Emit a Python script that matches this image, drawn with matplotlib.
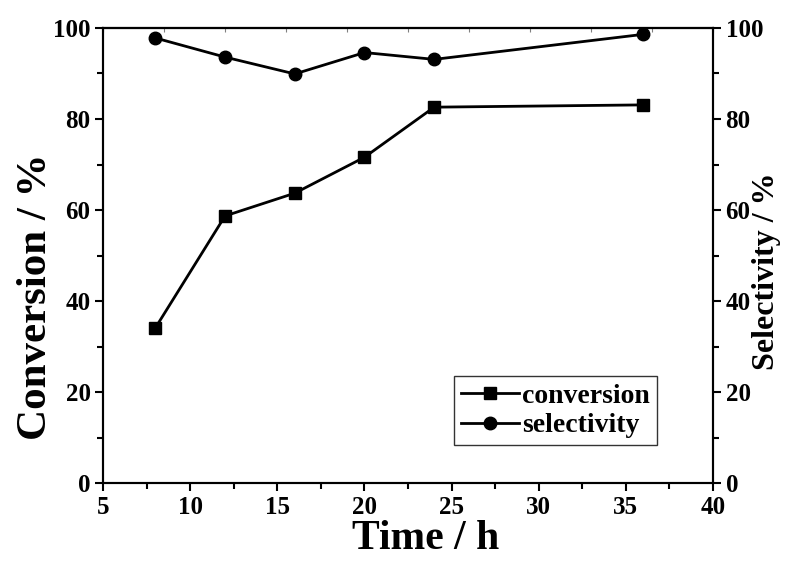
import numpy as np
import matplotlib
matplotlib.use("Agg")
import matplotlib.pyplot as plt
from matplotlib.ticker import MultipleLocator

plt.rcParams['font.family'] = ['Liberation Serif', 'DejaVu Serif']
plt.rcParams['font.weight'] = 'bold'

time_h = [8, 12, 16, 20, 24, 36]
conversion = [34.1, 58.7, 63.7, 71.6, 82.6, 83.1]
selectivity = [97.8, 93.6, 89.9, 94.6, 93.1, 98.6]

fig = plt.figure(figsize=(7.87, 5.71), dpi=100)
ax = fig.add_axes([0.131, 0.154, 0.775, 0.797])
ax2 = ax.twinx()

l1, = ax.plot(time_h, conversion, '-s', color='black', lw=2, ms=8, label='conversion')
l2, = ax2.plot(time_h, selectivity, '-o', color='black', lw=2, ms=9, label='selectivity')

for a in (ax, ax2):
    a.set_ylim(0, 100)
    a.yaxis.set_major_locator(MultipleLocator(20))
    a.yaxis.set_minor_locator(MultipleLocator(10))
    for s in a.spines.values():
        s.set_linewidth(1.5)
ax.set_xlim(5, 40)
ax.xaxis.set_major_locator(MultipleLocator(5))
ax.xaxis.set_minor_locator(MultipleLocator(2.5))

ax.tick_params(axis='both', which='major', direction='out', length=6, width=1.5, labelsize=18, pad=3)
ax.tick_params(axis='both', which='minor', direction='out', length=4, width=1.5)
ax.tick_params(top=False, which='both')
ax2.tick_params(axis='y', which='major', direction='out', length=6, width=1.5, labelsize=18, pad=3)
ax2.tick_params(axis='y', which='minor', direction='out', length=4, width=1.5)

# faint inward ticks along the top edge
top = ax.secondary_xaxis('top')
top.set_xticks(np.linspace(5, 40, 11))
top.tick_params(direction='in', length=3, width=0.8, color='gray', labeltop=False)
top.spines['top'].set_linewidth(1.5)

for lab in ax.get_xticklabels() + ax.get_yticklabels() + ax2.get_yticklabels():
    lab.set_fontweight('bold')

ax.set_xlabel('Time / h', fontsize=30, fontweight='bold')
ax.xaxis.set_label_coords(0.528, -0.082)
ax.set_ylabel('Conversion / %', fontsize=31, fontweight='bold')
ax.yaxis.set_label_coords(-0.079, 0.41)
ax2.set_ylabel('Selectivity / %', fontsize=23, fontweight='bold')
ax2.yaxis.set_label_coords(1.064, 0.465)

leg = ax.legend(handles=[l1, l2], loc='lower right', bbox_to_anchor=(0.908, 0.083),
                fontsize=20, frameon=True, fancybox=False, handlelength=2.1,
                handletextpad=0.1, borderpad=0.25, labelspacing=0.15, borderaxespad=0)
leg.get_frame().set_edgecolor('black')
leg.get_frame().set_linewidth(1.0)
for t in leg.get_texts():
    t.set_fontweight('bold')

fig.savefig('out.png', dpi=100)
